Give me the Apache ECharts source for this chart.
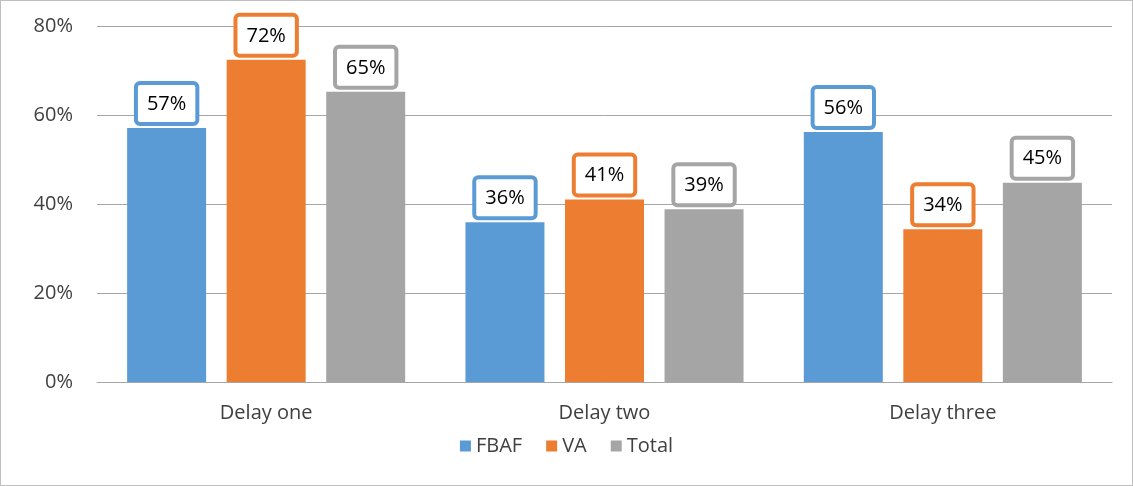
<!DOCTYPE html>
<html>
<head>
<meta charset="utf-8">
<script src="https://cdn.jsdelivr.net/npm/echarts@6/dist/echarts.min.js"></script>
<style>
  html, body { margin: 0; padding: 0; background: #fff; }
  #chart { width: 1131px; height: 484px; border: 1px solid #bfbfbf; }
</style>
</head>
<body>
<div id="chart"></div>
<script>
const categories = ["Delay one", "Delay two", "Delay three"]
const fbaf = [57.1, 35.9, 56.2]
const va = [72.4, 41.0, 34.3]
const total = [65.2, 38.8, 44.8]
const yTicks = [0, 20, 40, 60, 80]

const colors = ["#5B9BD5", "#ED7D31", "#A5A5A5"]

const chart = echarts.init(document.getElementById("chart"))

function makeSeries(name, data, color) {
    return {
        name: name,
        type: "bar",
        data: data,
        barWidth: 79,
        barGap: "26%",
        itemStyle: { color: color },
        label: {
            show: true,
            position: "top",
            distance: 6,
            formatter: p => Math.round(p.value) + "%",
            color: "#000",
            fontSize: 20,
            lineHeight: 22,
            fontFamily: "Open Sans",
            backgroundColor: "#fff",
            borderColor: color,
            borderWidth: 4,
            borderRadius: 2,
            padding: [8, 9, 7, 9]
        }
    }
}

chart.setOption({
    animation: false,
    color: colors,
    grid: { left: 96, right: 20, top: 25, bottom: 103, containLabel: false },
    legend: {
        bottom: 24,
        left: "center",
        itemWidth: 11,
        itemHeight: 11,
        itemGap: 24,
        icon: "rect",
        textStyle: { fontSize: 20, color: "#404040", fontFamily: "Open Sans" },
        data: ["FBAF", "VA", "Total"]
    },
    xAxis: {
        type: "category",
        data: categories,
        axisLine: { lineStyle: { color: "#a6a6a6" } },
        axisTick: { show: false },
        axisLabel: { fontSize: 20, color: "#404040", fontFamily: "Open Sans", margin: 21 }
    },
    yAxis: {
        type: "value",
        min: yTicks[0],
        max: yTicks[yTicks.length - 1],
        interval: 20,
        axisLine: { show: false },
        axisTick: { show: false },
        splitLine: { lineStyle: { color: "#a6a6a6" } },
        axisLabel: { fontSize: 20, color: "#404040", fontFamily: "Open Sans", margin: 24, formatter: "{value}%" }
    },
    series: [
        makeSeries("FBAF", fbaf, colors[0]),
        makeSeries("VA", va, colors[1]),
        makeSeries("Total", total, colors[2])
    ]
})
</script>
</body>
</html>
